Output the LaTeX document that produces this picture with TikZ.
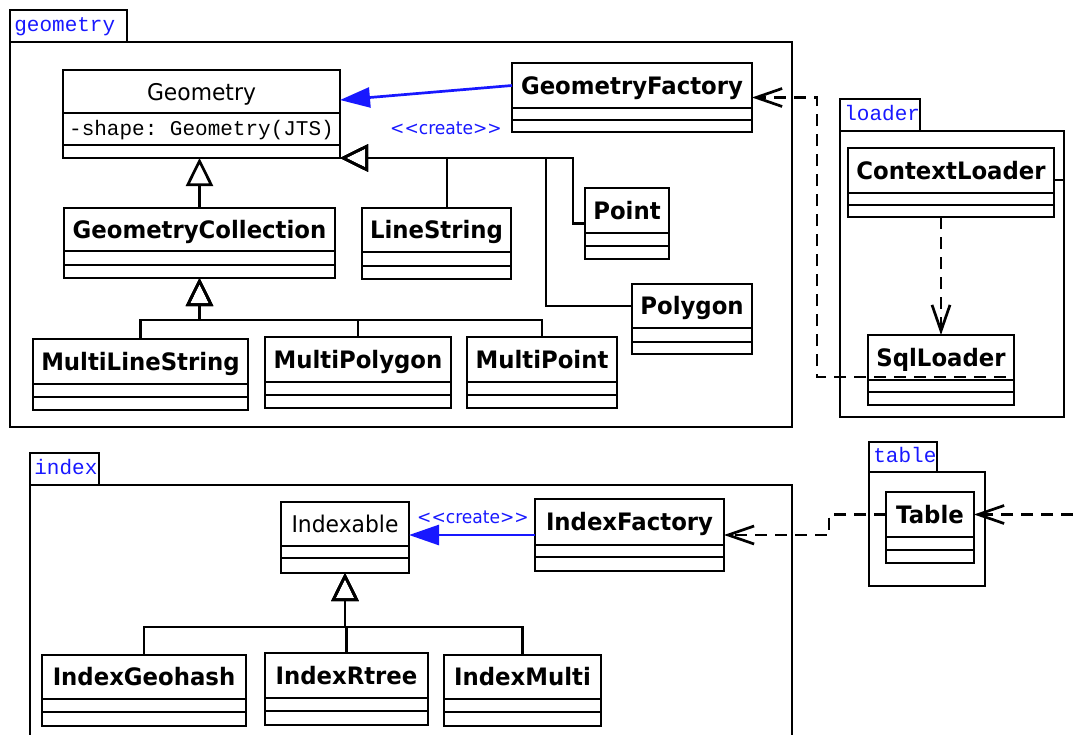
\documentclass[tikz,border=0pt]{standalone}
\usepackage{fontspec}
\setmainfont{DejaVu Sans}
\setmonofont{Liberation Mono}
\newfontfamily\umlsans[FakeStretch=0.95]{DejaVu Sans}
\usetikzlibrary{arrows.meta,calc,fit}

\definecolor{umlblue}{RGB}{24,24,255}

\tikzset{
  classbox/.style={draw, inner sep=0pt, outer sep=0pt},
  pkgbox/.style={draw, inner sep=0pt, outer sep=0pt},
  pkglabel/.style={font=\ttfamily\fontsize{21}{24}\selectfont, text=umlblue,
    anchor=west, inner sep=0pt, text height=11pt, text depth=0pt},
  clsname/.style={font=\umlsans\bfseries\fontsize{24}{28}\selectfont,
    text height=17.5pt, text depth=0pt, inner sep=0pt},
  clsplain/.style={font=\umlsans\fontsize{23}{27}\selectfont,
    text height=17pt, text depth=0pt, inner sep=0pt},
  attr/.style={font=\ttfamily\fontsize{21}{24}\selectfont,
    text height=13pt, text depth=0pt, inner sep=0pt},
  stereo/.style={font=\umlsans\fontsize{18}{21}\selectfont, text=umlblue,
    inner sep=0pt},
  inherit/.style={-{Triangle[open,length=28pt,width=27pt]}},
  depend/.style={dash pattern=on 12pt off 8pt,
    -{Straight Barb[length=26pt,width=18pt]}},
  creates/.style={draw=umlblue, -{Triangle[length=30pt,width=20pt,fill=umlblue]}},
}

% class: [name style]{id}{left}{top}{right}{name bottom}{separator}{bottom}{label}
\newcommand{\umlclass}[9][clsname]{%
  \node[classbox, fit={(#3,#4) (#5,#8)}] (#2) {};
  \draw (#3,#6) -- (#5,#6) (#3,#7) -- (#5,#7);
  \node[#1] (#2-name) at ({(#3+#5)/2},{(#4+#6)/2}) {#9};
}

% package: {id}{label}{left}{tab top}{tab right}{tab bottom}{right}{bottom}
\newcommand{\umlpackage}[8]{%
  \node[pkgbox, fit={(#3,#4) (#5,#6)}] (#1-tab) {};
  \node[pkgbox, fit={(#3,#6) (#7,#8)}] (#1) {};
  \node[pkglabel] (#1-label) at ({#3+3},{(#4+#6)/2}) {#2};
}

\begin{document}
\begin{tikzpicture}[x=1pt, y=-1pt, line width=2.7pt, line join=miter]
\path[use as bounding box] (0,0) rectangle (1073,734);
\clip (0,0) rectangle (1073,734);

% packages
\umlpackage{geometry}{geometry}{10}{10}{127}{42}{792}{427}
\umlpackage{loader}{loader}{840}{99}{920}{131}{1064}{417}
\umlpackage{index}{index}{30}{453}{99}{485}{792}{745}
\umlpackage{table}{table}{869}{442}{937}{472}{985}{586}

% geometry package
\umlclass[clsplain]{Geo}{63}{70}{340}{113}{145}{158}{Geometry}
\node[attr] (Geo-attr) at (201.5,129) {-shape: Geometry(JTS)};
\umlclass{GF}{512}{63}{752}{108}{120}{132}{GeometryFactory}
\umlclass{GC}{64}{208}{335}{251}{265}{278}{GeometryCollection}
\umlclass{LS}{362}{208}{511}{252}{266}{279}{LineString}
\umlclass{Point}{585}{188}{669}{233}{246}{259}{Point}
\umlclass{Polygon}{632}{284}{752}{328}{342}{354}{Polygon}
\umlclass{MLS}{33}{339}{248}{384}{397}{410}{MultiLineString}
\umlclass{MPg}{265}{337}{451}{382}{395}{408}{MultiPolygon}
\umlclass{MPt}{467}{337}{617}{382}{395}{408}{MultiPoint}

% loader package
\umlclass{CL}{848}{148}{1054}{193}{205}{217}{ContextLoader}
\umlclass{SL}{868}{335}{1014}{380}{392}{405}{SqlLoader}

% index package
\umlclass[clsplain]{Idx}{281}{502}{409}{546}{558}{573}{Indexable}
\umlclass{IF}{535}{499}{724}{545}{557}{571}{IndexFactory}
\umlclass{IG}{42}{655}{246}{699}{712}{726}{IndexGeohash}
\umlclass{IR}{265}{653}{428}{698}{711}{725}{IndexRtree}
\umlclass{IM}{444}{655}{601}{699}{712}{726}{IndexMulti}

% table package
\umlclass{Table}{886}{492}{974}{537}{550}{563}{Table}

% creation links
\draw[creates] (GF.west |- GF-name) -- ($(Geo.north east)+(0,30)$);
\node[stereo] (create1) at (446,128) {<<create>>};
\draw[creates] (IF.west) -- (IF.west -| Idx.east);
\node[stereo] (create2) at (473,517) {<<create>>};

% generalizations in geometry
\draw[inherit] (GC.north) -- (GC.north |- Geo.south);
\draw[inherit] ([xshift=10.5pt]LS.north) |- (Geo.south east);
\draw[inherit] (Point.west) -- ++(-12,0) |- (Geo.south east);
\draw[inherit] (Polygon.west |- Polygon-name) -- ++(-86,0) |- (Geo.south east);
\draw[inherit] (MLS.north) -- ++(0,-19) -| (GC.south);
\draw[inherit] (MPg.north) -- ++(0,-17) -| (GC.south);
\draw[inherit] (MPt.north) -- ++(0,-17) -| (GC.south);

% generalizations in index
\draw[inherit] (IG.north) -- ++(0,-28) -| (Idx.south);
\draw[inherit] (IR.north) -- ++(0,-26) -| (Idx.south);
\draw[inherit] (IM.north) -- ++(0,-28) -| (Idx.south);

% dependencies
\draw[depend] (SL.north |- CL.south) -- (SL.north);
\draw[depend] ($(SL.north east)+(-8,42)$) -| ($(GF.east)+(65,0)$) -- (GF.east);
\draw ($(CL.east)+(0,-2.5)$) -- ++(10,0);
\draw[depend] (Table.west |- Table-name) -- ++(-57,0) |- (IF.east);
\coordinate (tablesrc) at (1073,514.5);
\draw[depend] (tablesrc) -- (Table.east |- Table-name);
\end{tikzpicture}
\end{document}
